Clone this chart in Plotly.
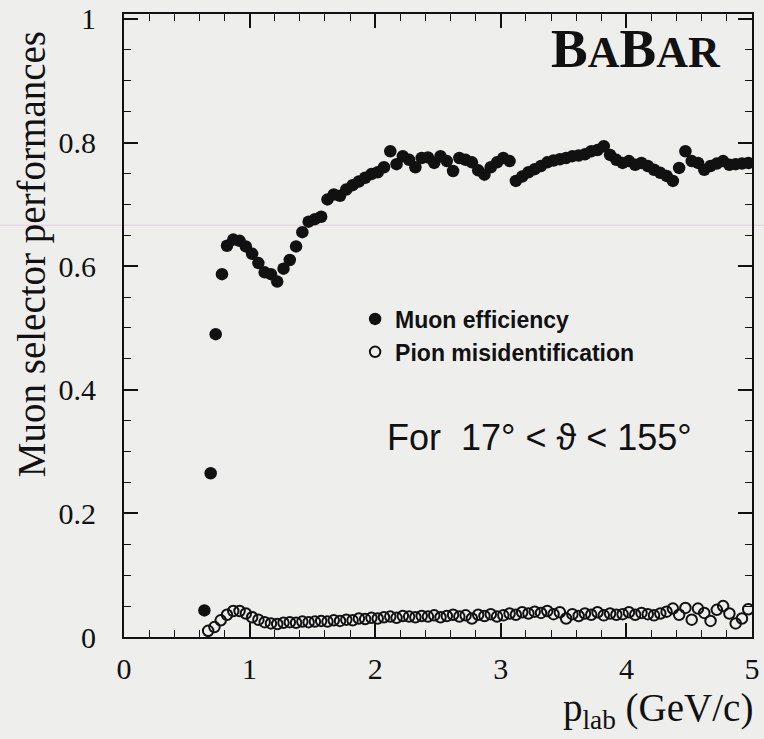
import plotly.graph_objects as go

# ---- data ----
muon_p = [0.64, 0.69, 0.73, 0.78, 0.82, 0.87, 0.92, 0.97, 1.02, 1.07, 1.12, 1.17, 1.22, 1.27,
          1.32, 1.37, 1.42, 1.47, 1.52, 1.57, 1.62, 1.67, 1.72, 1.77, 1.82, 1.87, 1.92, 1.97,
          2.02, 2.07, 2.12, 2.17, 2.22, 2.27, 2.32, 2.37, 2.42, 2.47, 2.52, 2.57, 2.62, 2.67,
          2.72, 2.77, 2.82, 2.87, 2.92, 2.97, 3.02, 3.07, 3.12, 3.17, 3.22, 3.27, 3.32, 3.37,
          3.42, 3.47, 3.52, 3.57, 3.62, 3.67, 3.72, 3.77, 3.82, 3.87, 3.92, 3.97, 4.02, 4.07,
          4.12, 4.17, 4.22, 4.27, 4.32, 4.37, 4.42, 4.47, 4.52, 4.57, 4.62, 4.67, 4.72, 4.77,
          4.82, 4.87, 4.92, 4.97]
muon_eff = [0.043, 0.265, 0.490, 0.587, 0.633, 0.643, 0.641, 0.632, 0.620, 0.605, 0.590, 0.587,
            0.575, 0.596, 0.610, 0.632, 0.655, 0.672, 0.676, 0.680, 0.708, 0.716, 0.714, 0.724,
            0.731, 0.737, 0.743, 0.749, 0.752, 0.760, 0.786, 0.765, 0.778, 0.772, 0.760, 0.775,
            0.776, 0.767, 0.778, 0.770, 0.754, 0.775, 0.772, 0.768, 0.755, 0.748, 0.760, 0.768,
            0.775, 0.770, 0.738, 0.745, 0.752, 0.757, 0.762, 0.768, 0.771, 0.773, 0.775, 0.778,
            0.779, 0.781, 0.786, 0.788, 0.794, 0.780, 0.772, 0.767, 0.770, 0.764, 0.767, 0.762,
            0.756, 0.751, 0.746, 0.738, 0.759, 0.786, 0.770, 0.767, 0.756, 0.762, 0.766, 0.770,
            0.764, 0.765, 0.766, 0.767]

pion_p = [0.67, 0.72, 0.77, 0.82, 0.87, 0.92, 0.97, 1.02, 1.07, 1.12, 1.17, 1.22, 1.27, 1.32,
          1.37, 1.42, 1.47, 1.52, 1.57, 1.62, 1.67, 1.72, 1.77, 1.82, 1.87, 1.92, 1.97, 2.02,
          2.07, 2.12, 2.17, 2.22, 2.27, 2.32, 2.37, 2.42, 2.47, 2.52, 2.57, 2.62, 2.67, 2.72,
          2.77, 2.82, 2.87, 2.92, 2.97, 3.02, 3.07, 3.12, 3.17, 3.22, 3.27, 3.32, 3.37, 3.42,
          3.47, 3.52, 3.57, 3.62, 3.67, 3.72, 3.77, 3.82, 3.87, 3.92, 3.97, 4.02, 4.07, 4.12,
          4.17, 4.22, 4.27, 4.32, 4.37, 4.42, 4.47, 4.52, 4.57, 4.62, 4.67, 4.72, 4.77, 4.82,
          4.87, 4.92, 4.97]
pion_mis = [0.010, 0.016, 0.027, 0.036, 0.042, 0.042, 0.038, 0.032, 0.028, 0.024, 0.022, 0.021,
            0.023, 0.024, 0.023, 0.025, 0.024, 0.025, 0.026, 0.025, 0.027, 0.026, 0.028, 0.027,
            0.030, 0.029, 0.031, 0.030, 0.032, 0.033, 0.031, 0.034, 0.033, 0.032, 0.034, 0.033,
            0.035, 0.032, 0.034, 0.036, 0.033, 0.035, 0.030, 0.036, 0.034, 0.037, 0.033, 0.035,
            0.038, 0.036, 0.040, 0.038, 0.041, 0.039, 0.042, 0.037, 0.040, 0.030, 0.037, 0.034,
            0.038, 0.036, 0.040, 0.035, 0.038, 0.036, 0.037, 0.040, 0.036, 0.039, 0.037, 0.035,
            0.038, 0.041, 0.046, 0.036, 0.047, 0.028, 0.046, 0.039, 0.026, 0.044, 0.050, 0.038,
            0.022, 0.030, 0.045]

x_ticks = [0, 1, 2, 3, 4, 5]
x_ticktext = ["0", "1", "2", "3", "4", "5"]
y_ticks = [0, 0.2, 0.4, 0.6, 0.8, 1.0]
y_ticktext = ["0", "0.2", "0.4", "0.6", "0.8", "1"]

BG = "#eeeeec"
INK = "#111111"
SERIF = "Liberation Serif, Times New Roman, serif"
SANS = "Liberation Sans, Arial, sans-serif"

fig = go.Figure()
fig.add_trace(go.Scatter(
    x=muon_p, y=muon_eff, mode="markers", name="Muon efficiency",
    marker=dict(symbol="circle", size=12.5, color=INK, line=dict(width=0)),
))
fig.add_trace(go.Scatter(
    x=pion_p, y=pion_mis, mode="markers", name="Pion misidentification",
    marker=dict(symbol="circle-open", size=10.5, color=INK, line=dict(width=2, color=INK)),
))

axis_common = dict(
    showline=True, linecolor=INK, linewidth=2, mirror="allticks",
    ticks="inside", ticklen=14, tickwidth=1.5, tickcolor=INK,
    showgrid=False, zeroline=False, automargin=False,
    tickfont=dict(family=SERIF, size=30, color=INK),
)

fig.update_xaxes(
    range=[0, 5], tickvals=x_ticks, ticktext=x_ticktext, ticklabelstandoff=4,
    minor=dict(ticks="inside", ticklen=7, tickwidth=1.2, tickcolor=INK, dtick=0.2, tick0=0),
    **axis_common,
)
fig.update_yaxes(
    range=[0, 1.008], tickvals=y_ticks, ticktext=y_ticktext, ticklabelstandoff=20,
    minor=dict(ticks="inside", ticklen=7, tickwidth=1.2, tickcolor=INK, dtick=0.05, tick0=0),
    **axis_common,
)

fig.update_layout(
    width=764, height=739,
    margin=dict(l=124, r=12, t=14, b=102),
    paper_bgcolor=BG, plot_bgcolor=BG,
    showlegend=True,
    legend=dict(
        x=0.368, y=0.545, xanchor="left", yanchor="top",
        bgcolor="rgba(0,0,0,0)", borderwidth=0,
        font=dict(family=SANS, size=23, color=INK, weight="bold"),
        tracegroupgap=0, itemsizing="trace",
    ),
    annotations=[
        dict(text='B<span style="font-size:44px">A</span>B<span style="font-size:44px">AR</span>',
             x=0.815, y=0.945, xref="paper", yref="paper", showarrow=False,
             xanchor="center", yanchor="middle",
             font=dict(family=SERIF, size=55, color=INK, weight="bold")),
        dict(text="For&nbsp; 17° &lt; ϑ &lt; 155°",
             x=0.662, y=0.321, xref="paper", yref="paper", showarrow=False,
             xanchor="center", yanchor="middle",
             font=dict(family=SANS, size=36, color=INK)),
        dict(text="Muon selector performances",
             x=-0.146, y=0.615, xref="paper", yref="paper", showarrow=False,
             xanchor="center", yanchor="middle", textangle=-90,
             font=dict(family=SERIF, size=39, color=INK)),
        dict(text="p<sub>lab</sub> (GeV/c)",
             x=1.005, y=-0.118, xref="paper", yref="paper", showarrow=False,
             xanchor="right", yanchor="middle",
             font=dict(family=SERIF, size=39, color=INK)),
    ],
    shapes=[
        dict(type="line", xref="paper", yref="paper",
             x0=-0.2, x1=1.02, y0=0.661, y1=0.661,
             line=dict(color="rgba(225,160,200,0.45)", width=1), layer="below"),
    ],
)

fig.write_html("out.html")
